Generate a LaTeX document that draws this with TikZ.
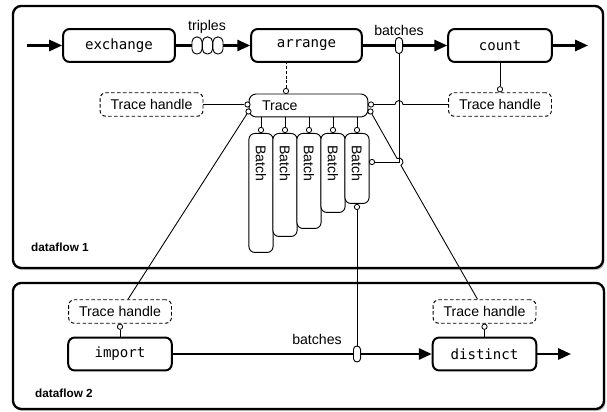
\documentclass[tikz,border=0pt]{standalone}
\usepackage{fontspec}
\setmainfont{Liberation Sans}
\setmonofont{DejaVu Sans Mono}
\usetikzlibrary{arrows.meta,shadows,calc}

\begin{document}
\begin{tikzpicture}[x=0.85pt, y=-0.85pt,
  frame/.style={line width=2pt, rounded corners=7pt, fill=white,
    drop shadow={shadow xshift=1.2pt, shadow yshift=-1.8pt, opacity=0.45}},
  op/.style={draw, line width=1.7pt, rounded corners=5.5pt, fill=white,
    minimum height=28pt, inner sep=0pt, font=\ttfamily\fontsize{12}{14}\selectfont},
  handle/.style={draw, dash pattern=on 3pt off 2pt, line width=0.8pt, rounded corners=5pt,
    fill=white, minimum height=20pt, minimum width=87.5pt, inner sep=0pt, font=\fontsize{12}{14}\selectfont},
  tracebox/.style={draw, line width=0.8pt, rounded corners=6pt, fill=white, minimum height=19.5pt,
    text width=79pt, inner xsep=11pt, align=left, font=\fontsize{12}{14}\selectfont},
  batchbox/.style={draw, fill=white, line width=0.8pt, rounded corners=5pt, rotate=-90, anchor=west,
    minimum height=20.5pt, inner xsep=10pt, align=left, font=\fontsize{12}{14}\selectfont},
  port/.style={circle, draw, fill=white, inner sep=0pt, minimum size=4.5pt, line width=0.7pt},
  bead/.style={draw, fill=white, line width=0.8pt, inner sep=0pt, minimum width=8.5pt,
    minimum height=14.5pt, rounded corners=4pt},
  wire/.style={line width=0.75pt},
  flow/.style={line width=2pt, -{Triangle[length=11pt, width=9.5pt]}},
  lbl/.style={font=\fontsize{12}{14}\selectfont},
  dflbl/.style={anchor=west, inner sep=0pt, font=\bfseries\fontsize{10}{12}\selectfont},
]
\useasboundingbox (0,0) rectangle (607,412);

% the two dataflows
\draw[frame] (13,6) rectangle (603,268);
\draw[frame] (13,283) rectangle (604,409);
\node[dflbl] (df1) at (31,247) {dataflow 1};
\node[dflbl] (df2) at (35,393) {dataflow 2};

% dataflow 1
\coordinate (src) at (27,45.5);
\coordinate (sink) at (588,45.5);
\node[op, minimum width=95pt] (exchange) at (119,45.5) {exchange};
\node[op, minimum width=94pt] (arrange) at (306.5,45.5) {arrange};
\node[op, minimum width=88pt] (count) at (500,45.5) {count};
\draw[flow] (src) -- (exchange);
\draw[flow] (exchange) -- (arrange);
\draw[flow] (arrange) -- (count);
\draw[flow] (count) -- (sink);
\node[bead] (tb1) at (197,45.5) {};
\node[bead] (tb2) at (207.5,45.5) {};
\node[bead] (tb3) at (218,45.5) {};
\node[bead, minimum width=6pt, minimum height=13.5pt, rounded corners=2.9pt] (bB) at (399,45.5) {};
\node[lbl] (triples) at (207,27) {triples};
\node[lbl] (batches) at (399,30) {batches};

\node[tracebox] (trace) at (308.5,105.5) {Trace};
\node[handle] (thL) at (151.5,104.5) {Trace handle};
\node[handle] (thR) at (500,104.5) {Trace handle};

\foreach \i/\len in {1/119,2/103,3/95,4/79,5/70}{
  \pgfmathsetmacro\bl{\len*0.85}
  \pgfmathsetmacro\bw{\len*0.85-20}
  \node[batchbox, minimum width=\bl pt, text width=\bw pt] (b\i) at (237+24*\i,133) {Batch};
  \node[port] (bt\i) at ($(b\i.west)+(0,-3)$) {};
  \draw[wire] (bt\i) -- (bt\i |- trace.south);
}

% dataflow 2
\coordinate (sink2) at (571,354);
\node[op, minimum width=88pt] (import) at (120,354) {import};
\node[op, minimum width=88pt] (distinct) at (484.5,354) {distinct};
\draw[flow] (import) -- (distinct);
\draw[flow] (distinct) -- (sink2);
\node[bead, minimum width=6pt, minimum height=13.5pt, rounded corners=2.9pt] (bB2) at (357,354) {};
\node[lbl] (batches2) at (317,339) {batches};
\node[handle] (thI) at (120,311.5) {Trace handle};
\node[handle] (thD) at (484.5,311.5) {Trace handle};

% ports
\node[port] (pTop) at (286,91) {};
\node[port] (pL1) at (247.5,104.5) {};
\node[port] (pL2) at (248.5,111.5) {};
\node[port] (pR1) at (371,104.5) {};
\node[port] (pR2) at (370.5,111.5) {};
\node[port] (pB5r) at (372,162) {};
\node[port] (pB5b) at ($(b5.east)+(0,3)$) {};
\node[port] (pC) at ($(thR.north)+(0,-3)$) {};
\node[port] (pI) at ($(thI.south)+(0,3)$) {};
\node[port] (pD) at ($(thD.south)+(0,3)$) {};
\coordinate (X) at (bB |- pB5r);
\coordinate (iT) at ($(thI.north)+(8,0)$);
\coordinate (dT) at ($(thD.north)+(-7,0)$);

% handles and batch wires
\draw[wire, dash pattern=on 2.5pt off 1.5pt] (pTop) -- (pTop |- arrange.south);
\draw[wire] (pC) -- (count.south);
\draw[wire] (pI) -- (import.north);
\draw[wire] (pD) -- (distinct.north);
\draw[wire] (thL.east) -- (pL1);
\draw[wire] (pL2) -- (iT);
\draw[wire] (pR1) -- ($(pR1 -| bB)+(-3.4pt,0)$) arc[start angle=180, end angle=0, radius=3.4pt] -- (thR.west);
\draw[wire] (bB.south) |- (pB5r);
\draw[wire] (pR2) -- ($(X)!3.4pt!(pR2)$) .. controls +(29.5:4.5pt) and +(29.5:4.5pt) .. ($(X)!3.4pt!(dT)$) -- (dT);
\draw[wire] (pB5b) -- (bB2.north);
\end{tikzpicture}
\end{document}
